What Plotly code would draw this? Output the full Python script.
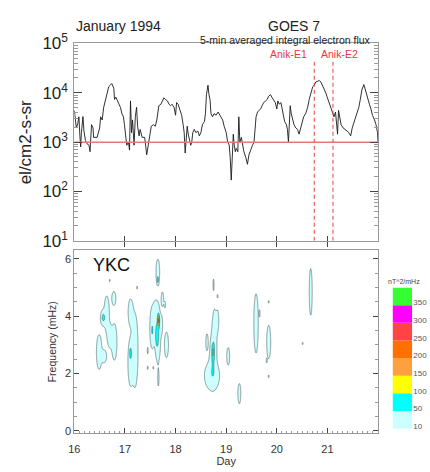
import numpy as np
import plotly.graph_objects as go

# ---------------- data ----------------
# GOES 7 5-min averaged integral electron flux (el/cm2-s-sr), January 1994
goes_day = [16.00, 16.01, 16.04, 16.07, 16.09, 16.11, 16.125, 16.14, 16.17, 16.19, 16.22, 16.25, 16.29, 16.31,
            16.33, 16.34, 16.37, 16.38, 16.45, 16.50, 16.52, 16.55, 16.58, 16.61, 16.64, 16.68, 16.71, 16.74,
            16.78, 16.795, 16.82, 16.86, 16.91, 16.94, 16.97, 16.99, 17.02, 17.035, 17.07, 17.09, 17.11, 17.13,
            17.15, 17.18, 17.205, 17.23, 17.25, 17.28, 17.30, 17.34, 17.39, 17.41, 17.43, 17.47, 17.50, 17.52,
            17.56, 17.60, 17.63, 17.65, 17.67, 17.71, 17.74, 17.77, 17.80, 17.84, 17.87, 17.90, 17.93, 17.97,
            18.00, 18.02, 18.05, 18.08, 18.12, 18.15, 18.17, 18.19, 18.21, 18.23, 18.25, 18.28, 18.30, 18.32,
            18.34, 18.37, 18.40, 18.44, 18.47, 18.50, 18.53, 18.57, 18.59, 18.61, 18.64, 18.66, 18.68, 18.70,
            18.73, 18.76, 18.80, 18.84, 18.88, 18.92, 18.93, 18.96, 19.00, 19.03, 19.06, 19.08, 19.10, 19.12,
            19.14, 19.16, 19.18, 19.20, 19.23, 19.25, 19.27, 19.30, 19.32, 19.35, 19.39, 19.42, 19.45, 19.48,
            19.52, 19.55, 19.57, 19.59, 19.62, 19.65, 19.68, 19.71, 19.74, 19.78, 19.81, 19.84, 19.875, 19.91,
            19.94, 19.97, 20.00, 20.02, 20.05, 20.08, 20.10, 20.13, 20.155, 20.19, 20.21, 20.23, 20.245, 20.265,
            20.285, 20.31, 20.34, 20.375, 20.41, 20.44, 20.47, 20.49, 20.53, 20.57, 20.61, 20.64, 20.68, 20.71,
            20.74, 20.77, 20.80, 20.84, 20.87, 20.90, 20.935, 20.97, 21.00, 21.03, 21.07, 21.10, 21.13, 21.16,
            21.18, 21.20, 21.22, 21.24, 21.27, 21.31, 21.36, 21.39, 21.42, 21.46, 21.49, 21.52, 21.555, 21.59,
            21.62, 21.65, 21.68, 21.72, 21.74, 21.77, 21.795, 21.83, 21.86, 21.89, 21.93, 21.96, 21.99, 22.00]
goes_flux = [4400, 3300, 1940, 2420, 3260, 1340, 800, 1560, 3300, 1680, 1080, 930, 865, 640,
             1340, 2260, 1940, 1250, 1250, 1940, 3260, 2820, 5080, 6840, 9160, 13300, 14250, 15400,
             12300, 7330, 8170, 6340, 5080, 3780, 3260, 2260, 1340, 865, 1000, 690, 6840, 1560,
             2820, 865, 3260, 5080, 2100, 1340, 1810, 1250, 1250, 865, 555, 1000, 1560, 2100,
             2260, 2100, 2820, 4070, 5470, 5870, 6840, 7910, 7330, 6840, 5870, 5470, 5870, 5080,
             3510, 6340, 5870, 4710, 3510, 2260, 1560, 600, 1160, 2100, 1450, 1080, 865, 1000,
             1560, 1810, 1560, 1680, 1340, 1560, 2260, 2610, 3780, 9160, 14250, 9160, 7330, 3780,
             3260, 3780, 3510, 4070, 3510, 3030, 2820, 2100, 1560, 1000, 865, 480, 170, 480,
             1450, 865, 640, 746, 640, 3260, 1000, 1250, 865, 640, 480, 356, 555, 690,
             865, 1000, 1560, 3260, 4070, 4400, 4710, 5470, 6340, 6840, 7330, 8530, 9160, 7910,
             6840, 6340, 4710, 6840, 5870, 6340, 5080, 3780, 2610, 2260, 1810, 1000, 2820, 5470,
             3780, 2820, 2260, 1940, 1810, 1450, 1940, 2420, 3260, 3780, 5080, 7330, 9860, 13300,
             14250, 16550, 17000, 17800, 16550, 14250, 12300, 9860, 7910, 6340, 5080, 3780, 3260, 4070,
             2610, 1450, 4400, 3260, 2260, 1940, 1810, 1680, 1560, 1340, 1940, 2420, 3030, 3780,
             5080, 7330, 11400, 14700, 12300, 9160, 7330, 5870, 4710, 3510, 2820, 2260, 1560, 1000]

threshold_flux = 1000
anik_days = [20.74, 21.11]
anik_names = ["Anik-E1", "Anik-E2"]

# YKC pulsation power: spectral peaks (day, frequency mHz, spread in day, spread in mHz, peak nT^2/mHz)
blob_day  = [16.57, 16.49, 16.59, 16.64, 16.70, 16.78, 16.79, 16.67, 16.70,
             17.11, 17.11, 17.11, 17.20, 17.24, 17.45, 17.45,
             17.65, 17.65, 17.65, 17.665, 17.63, 17.54, 17.54, 17.60, 17.74, 17.79, 17.72, 17.82, 17.66, 17.56,
             18.72, 18.74, 18.74, 18.77, 18.83, 18.62, 18.75, 18.83, 19.04, 19.26,
             19.59, 19.66, 19.84, 19.80, 19.84, 19.84,
             20.51, 20.67]
blob_freq = [3.95, 2.75, 2.60, 4.10, 3.30, 4.62, 3.10, 5.60, 5.25,
             4.15, 2.40, 2.72, 2.80, 5.00, 2.80, 2.20,
             5.55, 5.27, 3.40, 3.85, 3.30, 3.60, 3.50, 4.10, 4.60, 4.40, 3.70, 3.00, 1.80, 2.20,
             1.92, 2.60, 2.75, 3.50, 3.85, 3.10, 5.10, 4.70, 2.60, 1.30,
             3.75, 4.10, 3.10, 2.45, 4.50, 1.90,
             3.05, 4.85]
blob_sday = [0.029, 0.040, 0.035, 0.035, 0.035, 0.030, 0.035, 0.008, 0.008,
             0.035, 0.035, 0.012, 0.040, 0.008, 0.008, 0.008,
             0.025, 0.010, 0.035, 0.012, 0.020, 0.030, 0.008, 0.030, 0.020, 0.015, 0.020, 0.030, 0.012, 0.008,
             0.095, 0.040, 0.015, 0.030, 0.020, 0.020, 0.012, 0.008, 0.025, 0.025,
             0.030, 0.010, 0.030, 0.008, 0.008, 0.008,
             0.008, 0.022]
blob_sfreq = [0.15, 0.45, 0.16, 0.41, 0.29, 0.18, 0.43, 0.04, 0.04,
              0.33, 0.55, 0.12, 0.86, 0.04, 0.10, 0.05,
              0.30, 0.08, 0.62, 0.15, 0.25, 0.44, 0.10, 0.29, 0.21, 0.12, 0.24, 0.33, 0.25, 0.04,
              0.32, 0.50, 0.18, 0.50, 0.28, 0.24, 0.22, 0.05, 0.26, 0.30,
              0.70, 0.12, 0.43, 0.06, 0.04, 0.04,
              0.04, 0.60]
blob_peak = [60, 25, 25, 30, 25, 25, 30, 20, 20,
             25, 30, 70, 30, 20, 20, 20,
             30, 70, 40, 140, 60, 40, 30, 25, 20, 15, 20, 25, 15, 20,
             35, 40, 70, 30, 20, 20, 15, 20, 20, 20,
             30, 15, 25, 20, 20, 20,
             20, 25]

power_levels = [10, 50, 100, 150, 200, 250, 300, 350, 400]
level_colors = ['#ccffff', '#00ffff', '#ffff00', '#ffa040', '#ff7000', '#ff4444', '#ff00ff', '#33ff33']
level_labels = ['10', '50', '100', '150', '200', '250', '300', '350']

# ---------------- build spectrogram grid ----------------
grid_day = np.arange(16.0, 22.0001, 0.004)
grid_freq = np.arange(-0.08, 6.3001, 0.02)
D, F = np.meshgrid(grid_day, grid_freq)
P = np.zeros_like(D)
for d, f, sd, sf, a in zip(blob_day, blob_freq, blob_sday, blob_sfreq, blob_peak):
    P += a * np.exp(-0.5 * ((D - d) / sd) ** 2 - 0.5 * ((F - f) / sf) ** 2)
level_index = np.interp(P, [0] + power_levels, list(range(len(power_levels) + 1))).astype(np.float32)

n = len(level_colors)
cscale = [[0.0, '#ffffff']] + [[(k + 1) / n, c] for k, c in enumerate(level_colors)]

FONT = "Liberation Sans, Arial, Helvetica, sans-serif"
AX = '#999999'
W, H = 430, 472

def px(x):
    return x / W

def py(y):
    return 1 - y / H

fig = go.Figure()

# top panel
fig.add_trace(go.Scatter(x=goes_day, y=goes_flux, mode='lines',
                         line=dict(color='#1a1a1a', width=0.9), xaxis='x', yaxis='y',
                         showlegend=False, hoverinfo='skip'))
fig.add_trace(go.Scatter(x=[16, 22], y=[threshold_flux, threshold_flux], mode='lines',
                         line=dict(color='#e87878', width=1.5), xaxis='x', yaxis='y',
                         showlegend=False, hoverinfo='skip'))
for d in anik_days:
    fig.add_trace(go.Scatter(x=[d, d], y=[10, 42700], mode='lines',
                             line=dict(color='#e8404a', width=1, dash='4px,3px'), xaxis='x', yaxis='y',
                             showlegend=False, hoverinfo='skip'))
# invisible trace to hold the outside-tick overlay axis
fig.add_trace(go.Scatter(x=[16], y=[10], mode='markers', marker=dict(opacity=0), xaxis='x3', yaxis='y',
                         showlegend=False, hoverinfo='skip'))

# bottom panel
fig.add_trace(go.Contour(x=grid_day, y=grid_freq, z=level_index, autocontour=False,
                         contours=dict(start=1, end=8, size=1, coloring='fill', showlines=True),
                         line=dict(color='#4a5a5a', width=0.6, smoothing=0),
                         colorscale=cscale, showscale=False, xaxis='x2', yaxis='y2', hoverinfo='skip'))

# colour bar
fig.add_trace(go.Bar(x=[0] * n, y=[1] * n, base=list(range(n)), width=1,
                     marker=dict(color=level_colors, line=dict(width=0)),
                     xaxis='x4', yaxis='y4', showlegend=False, hoverinfo='skip'))

xdom = [px(69.3), px(377.3)]
common_line = dict(showline=True, linecolor=AX, linewidth=1, showgrid=False, zeroline=False,
                   tickcolor='#444444')

fig.update_layout(
    width=W, height=H, margin=dict(l=0, r=0, t=0, b=0),
    paper_bgcolor='white', plot_bgcolor='white',
    font=dict(family=FONT, color='#222222'),
    xaxis=dict(domain=xdom, range=[16, 22], anchor='y', tickmode='array', tickvals=[17, 18, 19, 20, 21],
               ticks='inside', ticklen=5, showticklabels=False, mirror=True, **common_line),
    xaxis3=dict(overlaying='x', range=[16, 22], anchor='y', tickmode='array', tickvals=[17, 18, 19, 20, 21],
                ticks='outside', ticklen=5, tickcolor='#444444', showticklabels=False, showline=False,
                showgrid=False, zeroline=False),
    yaxis=dict(domain=[py(240), py(33)], type='log', range=[1, 5], anchor='x',
               tickmode='array', tickvals=[10, 100, 1000, 1e4, 1e5],
               ticktext=['10<sup>1</sup>', '10<sup>2</sup>', '10<sup>3</sup>', '10<sup>4</sup>', '10<sup>5</sup>'],
               ticks='inside', ticklen=8, mirror='ticks', tickfont=dict(size=17, color='#222222'),
               ticklabelstandoff=2,
               minor=dict(ticks='inside', ticklen=4, dtick='D1', tickcolor=AX, showgrid=False),
               **common_line),
    xaxis2=dict(domain=xdom, range=[16, 22], anchor='y2', tickmode='array', tickvals=[16, 17, 18, 19, 20, 21],
                ticks='inside', ticklen=5, mirror=True, tickfont=dict(size=11, color='#333333'),
                ticklabelstandoff=6,
                minor=dict(ticks='inside', ticklen=2, dtick=0.1, tickcolor=AX, showgrid=False),
                title=dict(text='Day', font=dict(size=11, color='#333333'), standoff=0),
                **common_line),
    yaxis2=dict(domain=[py(441.7), py(250)], range=[-0.08, 6.3], anchor='x2',
                tickmode='array', tickvals=[0, 2, 4, 6], ticks='inside', ticklen=5, mirror='ticks',
                tickfont=dict(size=11, color='#333333'),
                minor=dict(ticks='inside', ticklen=3, dtick=0.5, tickcolor=AX, showgrid=False),
                title=dict(text='Frequency (mHz)', font=dict(size=10.5, color='#333333'), standoff=6),
                **common_line),
    xaxis4=dict(domain=[px(392), px(412)], range=[-0.5, 0.5], anchor='y4', visible=False),
    yaxis4=dict(domain=[py(437), py(289)], range=[0, n], anchor='x4', side='right',
                tickmode='array', tickvals=[k + 0.15 for k in range(n)], ticktext=level_labels,
                ticks='', showline=False, showgrid=False, zeroline=False,
                tickfont=dict(size=8, color='#555555')),
    showlegend=False,
)

ann = [
    dict(text='January 1994', x=px(114), y=py(15), font=dict(size=14, color='#222222')),
    dict(text='GOES 7', x=px(292), y=py(15), font=dict(size=14, color='#222222')),
    dict(text='5-min averaged integral electron flux', x=px(283), y=py(29), font=dict(size=10.5, color='#222222')),
    dict(text=anik_names[0], x=px(287), y=py(44), font=dict(size=10.5, color='#e8383d')),
    dict(text=anik_names[1], x=px(338), y=py(44), font=dict(size=10.5, color='#e8383d')),
    dict(text='el/cm2-s-sr', x=px(20), y=py(137), textangle=-90, font=dict(size=17, color='#222222')),
    dict(text='YKC', x=px(107), y=py(265), font=dict(size=18, color='#111111')),
    dict(text='nT^2/mHz', x=px(404), y=py(283), font=dict(size=7, color='#444444')),
]
for a in ann:
    a.update(xref='paper', yref='paper', showarrow=False, xanchor='center', yanchor='middle')
fig.update_layout(annotations=ann)

fig.write_html("out.html")
